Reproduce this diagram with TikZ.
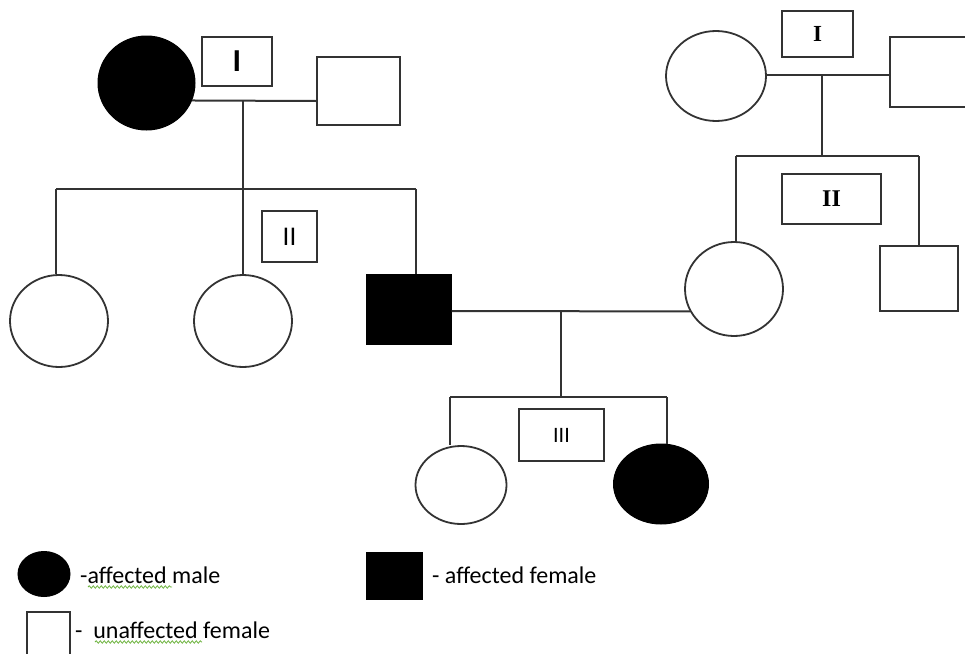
\documentclass[tikz,border=0pt]{standalone}
\usepackage{fontspec}
\setmainfont{Carlito}
\newfontfamily\serifnum{Liberation Serif}
\usetikzlibrary{shapes.geometric,decorations.pathmorphing}
\definecolor{ln}{HTML}{333333}
\definecolor{spell}{HTML}{6DB33F}
\tikzset{
  conn/.style={line width=2pt, draw=ln},
  female/.style={ellipse, draw=ln, line width=1.8pt, inner sep=0pt, fill=white},
  affcirc/.style={ellipse, draw=black, line width=1pt, fill=black, inner sep=0pt},
  malebox/.style={rectangle, draw=ln, line width=2pt, inner sep=0pt, fill=white},
  affbox/.style={rectangle, draw=black, line width=1pt, fill=black, inner sep=0pt},
  genbox/.style={rectangle, draw=ln, line width=2pt, inner sep=0pt, fill=white, text=black},
  legtext/.style={anchor=west, inner sep=0pt, font=\fontsize{24}{28}\selectfont, text=black},
  wavy/.style={draw=spell, line width=0.8pt, decorate, decoration={snake, amplitude=1.2pt, segment length=4pt}}
}
\begin{document}
\begin{tikzpicture}[x=1pt,y=-1pt]
\useasboundingbox (0,0) rectangle (965,653);
\clip (0,0) rectangle (965,653);
% ---------- left family, generation I
\node[affcirc, minimum width=97pt, minimum height=94pt] (gm1) at (146.5,83) {};
\node[malebox, minimum width=83pt, minimum height=68pt] (gp1) at (358.5,91) {};
\node[genbox, minimum width=70pt, minimum height=49pt, font=\bfseries\fontsize{32}{34}\selectfont] (lab1) at (237,61.5) {I};
\coordinate (mar1) at (243,101);
\coordinate (sib1) at (243,189);
\draw[conn] (gm1.-21) -- (gp1.west |- mar1);
\draw[conn] (mar1) -- (sib1);
% ---------- generation II (left)
\node[female, minimum width=98pt, minimum height=92pt] (c1) at (59,321) {};
\node[female, minimum width=98pt, minimum height=92pt] (c2) at (243,321) {};
\node[affbox, minimum width=85pt, minimum height=70pt] (s1) at (408.5,309) {};
\node[genbox, minimum width=55pt, minimum height=51pt, font=\fontsize{27}{30}\selectfont] (lab2) at (289.5,236.5) {II};
\coordinate (sib1l) at (56,189);
\coordinate (sib1r) at (416,189);
\draw[conn] (sib1l) -- (sib1r);
\draw[conn] (sib1l) -- (sib1l |- c1.north);
\draw[conn] (sib1) -- (c2.north);
\draw[conn] (sib1r) -- (sib1r |- s1.north);
% ---------- right family, generation I
\node[female, minimum width=100pt, minimum height=90pt] (rgm) at (716,76) {};
\node[malebox, minimum width=85pt, minimum height=70pt] (rgp) at (932.5,72) {};
\node[genbox, minimum width=71pt, minimum height=46pt, font=\serifnum\bfseries\fontsize{23}{26}\selectfont] (labR1) at (817.5,34) {I};
\coordinate (marR) at (822,75);
\coordinate (sibR) at (822,156);
\draw[conn] (rgm.east |- marR) -- (rgp.west |- marR);
\draw[conn] (marR) -- (sibR);
% ---------- right family, generation II
\node[female, minimum width=98pt, minimum height=94pt] (rc) at (734,289) {};
\node[malebox, minimum width=78pt, minimum height=65pt] (rs) at (919,278.5) {};
\node[genbox, minimum width=99pt, minimum height=50pt, font=\serifnum\bfseries\fontsize{24}{28}\selectfont] (labR2) at (831.5,199) {II};
\coordinate (sibRl) at (736,156);
\coordinate (sibRr) at (919,156);
\draw[conn] (sibRl) -- (sibRr);
\draw[conn] (sibRl) -- (sibRl |- rc.north);
\draw[conn] (sibRr) -- (rs.north);
% ---------- marriage of generation II
\coordinate (mar2) at (561,311);
\coordinate (sib3) at (561,397);
\draw[conn] (s1.east |- mar2) -- (rc.207);
\draw[conn] (mar2) -- (sib3);
% ---------- generation III
\node[female, minimum width=91pt, minimum height=78pt] (c3) at (461,485) {};
\node[affcirc, minimum width=95pt, minimum height=80pt] (a3) at (661,484) {};
\node[genbox, minimum width=85pt, minimum height=52pt, font=\fontsize{22}{24}\selectfont] (lab3) at (561.5,435) {III};
\coordinate (sib3l) at (450,397);
\coordinate (sib3r) at (667,397);
\draw[conn] (sib3l) -- (sib3r);
\draw[conn] (sib3l) -- (sib3l |- c3.north);
\draw[conn] (sib3r) -- (sib3r |- a3.north);
% ---------- legend
\node[affcirc, minimum width=52pt, minimum height=45pt] (lg1) at (44,574) {};
\node[legtext] (lt1) at (80,575) {-affected male};
\node[affbox, minimum width=56pt, minimum height=47pt] (lg2) at (394,575.5) {};
\node[legtext] (lt2) at (432,575) {- affected female};
\node[malebox, minimum width=43pt, minimum height=56pt] (lg3) at (48.5,640) {};
\node[legtext] (lt3) at (75,630) {-\ \ unaffected female};
\coordinate (w1a) at (88,587);
\coordinate (w1b) at (172,587);
\coordinate (w2a) at (95,642);
\coordinate (w2b) at (202,642);
\draw[wavy] (w1a) -- (w1b);
\draw[wavy] (w2a) -- (w2b);
\end{tikzpicture}
\end{document}
